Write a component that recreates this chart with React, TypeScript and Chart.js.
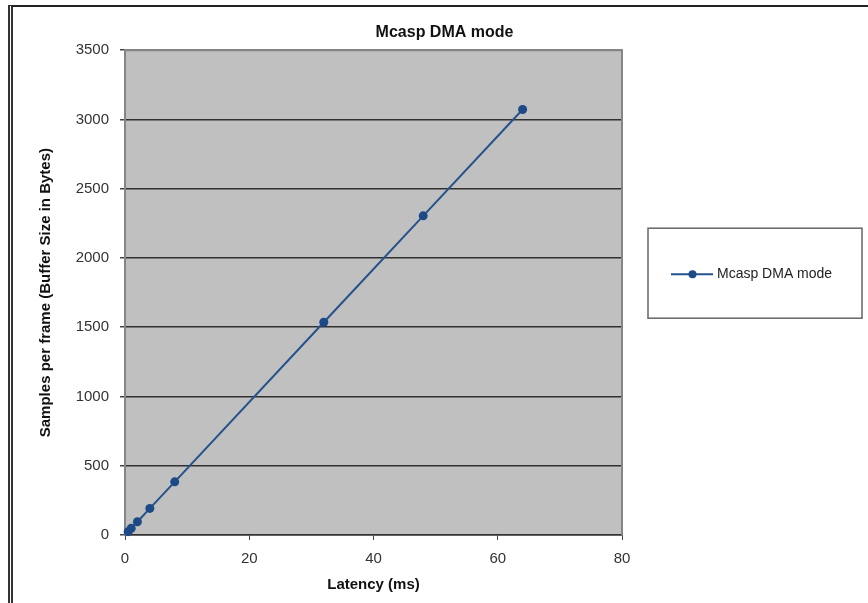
import React, { useEffect, useRef } from "react";
import { Chart, registerables } from "chart.js";

Chart.register(...registerables);

const chartTitle = "Mcasp DMA mode";
const seriesName = "Mcasp DMA mode";
const xAxisTitle = "Latency (ms)";
const yAxisTitle = "Samples per frame (Buffer Size in Bytes)";
const latencyMs = [0.5, 1, 2, 4, 8, 32, 48, 64];
const samplesPerFrame = [24, 48, 96, 192, 384, 1536, 2304, 3072];
const xTicks = [0, 20, 40, 60, 80];
const yTicks = [0, 500, 1000, 1500, 2000, 2500, 3000, 3500];

const LINE_COLOR = "#24528c";
const POINT_COLOR = "#1d4a86";
const FONT = "'Liberation Sans', Arial, sans-serif";

const plotBg = {
  id: "plotBg",
  beforeDraw(chart: any) {
    const { ctx, chartArea } = chart;
    ctx.save();
    ctx.fillStyle = "#c0c0c0";
    ctx.fillRect(chartArea.left, chartArea.top, chartArea.right - chartArea.left, chartArea.bottom - chartArea.top);
    ctx.restore();
  },
  beforeDatasetsDraw(chart: any) {
    const { ctx, chartArea } = chart;
    ctx.save();
    ctx.strokeStyle = "#858585";
    ctx.lineWidth = 2;
    ctx.beginPath();
    ctx.moveTo(chartArea.left, chartArea.top);
    ctx.lineTo(chartArea.right, chartArea.top);
    ctx.lineTo(chartArea.right, chartArea.bottom);
    ctx.stroke();
    ctx.restore();
  },
};

const boxLegend = {
  id: "boxLegend",
  afterDraw(chart: any) {
    const { ctx, chartArea } = chart;
    const bx = chartArea.right + 26;
    const by = chartArea.top + 178;
    const w = 214;
    const h = 90;
    ctx.save();
    ctx.strokeStyle = "#666";
    ctx.lineWidth = 1.5;
    ctx.strokeRect(bx, by, w, h);
    const ly = by + 46;
    ctx.strokeStyle = LINE_COLOR;
    ctx.lineWidth = 2;
    ctx.beginPath();
    ctx.moveTo(bx + 23, ly);
    ctx.lineTo(bx + 65, ly);
    ctx.stroke();
    ctx.fillStyle = POINT_COLOR;
    ctx.beginPath();
    ctx.arc(bx + 44.5, ly, 4, 0, Math.PI * 2);
    ctx.fill();
    ctx.fillStyle = "#222";
    ctx.font = `14px ${FONT}`;
    ctx.textAlign = "left";
    ctx.textBaseline = "middle";
    ctx.fillText(chart.data.datasets[0].label, bx + 69, ly);
    ctx.restore();
  },
};

export default function App() {
  const ref = useRef<HTMLCanvasElement | null>(null);

  useEffect(() => {
    if (!ref.current) return;
    const chart = new Chart(ref.current, {
      type: "scatter",
      data: {
        datasets: [
          {
            label: seriesName,
            data: latencyMs.map((x, i) => ({ x, y: samplesPerFrame[i] })),
            showLine: true,
            borderColor: LINE_COLOR,
            borderWidth: 2,
            backgroundColor: POINT_COLOR,
            pointBackgroundColor: POINT_COLOR,
            pointBorderColor: POINT_COLOR,
            pointRadius: 4.5,
            pointBorderWidth: 0,
            clip: false as any,
          },
        ],
      },
      options: {
        animation: false,
        responsive: false,
        maintainAspectRatio: false,
        layout: { padding: { left: 8 } },
        plugins: {
          legend: { display: false },
          tooltip: { enabled: false },
          title: {
            display: true,
            text: chartTitle,
            color: "#111",
            font: { family: FONT, size: 16, weight: "bold" },
            padding: { top: 16, bottom: 8 },
          },
        },
        scales: {
          x: {
            type: "linear",
            min: xTicks[0],
            max: xTicks[xTicks.length - 1],
            afterBuildTicks: (scale: any) => {
              scale.ticks = xTicks.map((v) => ({ value: v }));
            },
            afterFit: (scale: any) => {
              scale.height = 68;
            },
            ticks: {
              color: "#333",
              font: { family: FONT, size: 15 },
              padding: 10,
              maxRotation: 0,
              callback: (v: any) => String(v),
            },
            grid: {
              display: true,
              drawOnChartArea: false,
              drawTicks: true,
              tickLength: 5,
              tickColor: "#444",
            },
            border: { display: true, color: "#333", width: 1.5 },
            title: {
              display: true,
              text: xAxisTitle,
              color: "#111",
              font: { family: FONT, size: 15, weight: "bold" },
              padding: { top: 0, bottom: 9 },
            },
          },
          y: {
            type: "linear",
            position: "left",
            min: yTicks[0],
            max: yTicks[yTicks.length - 1],
            afterBuildTicks: (scale: any) => {
              scale.ticks = yTicks.map((v) => ({ value: v }));
            },
            afterFit: (scale: any) => {
              scale.width = 104;
            },
            ticks: {
              color: "#333",
              font: { family: FONT, size: 15 },
              padding: 11,
              callback: (v: any) => String(v),
            },
            grid: {
              display: true,
              drawTicks: true,
              tickLength: 5,
              tickColor: "#444",
              lineWidth: 1.5,
              color: (c: any) =>
                c.tick && c.tick.value === yTicks[yTicks.length - 1] ? "#858585" : "#303030",
            },
            border: { display: true, color: "#858585", width: 2 },
            title: {
              display: true,
              text: yAxisTitle,
              color: "#111",
              font: { family: FONT, size: 15, weight: "bold" },
              padding: { top: 16, bottom: 0 },
            },
          },
          yRight: {
            type: "linear",
            position: "right",
            display: true,
            afterFit: (scale: any) => {
              scale.width = 246;
            },
            ticks: { display: false },
            grid: { display: false, drawTicks: false },
            border: { display: false },
            title: { display: false },
          },
        },
      },
      plugins: [plotBg, boxLegend],
    });
    return () => chart.destroy();
  }, []);

  return (
    <div style={{ position: "absolute", left: 0, top: 0, width: 868, height: 603, background: "#fff", overflow: "hidden" }}>
      <div
        style={{
          position: "absolute",
          left: 8,
          top: 5,
          width: 860,
          height: 598,
          borderTop: "2px solid #222",
          borderLeft: "5px double #333",
          boxSizing: "border-box",
        }}
      />
      <canvas ref={ref} width={855} height={596} style={{ position: "absolute", left: 13, top: 7, width: 855, height: 596 }} />
    </div>
  );
}
